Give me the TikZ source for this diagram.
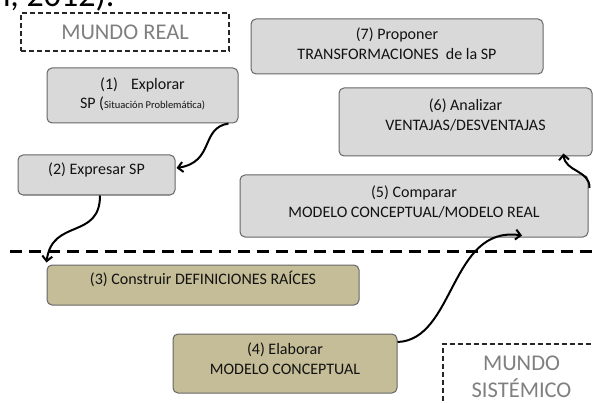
\documentclass[tikz,border=0pt]{standalone}
\usepackage{fontspec}
\setmainfont{Carlito}
\usetikzlibrary{arrows.meta,calc}
\definecolor{boxgray}{HTML}{D9D9D9}
\definecolor{boxolive}{HTML}{C4BD97}
\definecolor{boxline}{HTML}{666666}
\definecolor{textc}{HTML}{121212}
\definecolor{worldc}{HTML}{7F7F7F}
\newcommand{\liftup}[2]{\raisebox{#1}[\height][\depth]{\begin{tabular}{@{}c@{}}#2\end{tabular}}}
\tikzset{
  gbox/.style={draw=boxline, fill=boxgray, rounded corners=5pt, line width=1pt,
    inner sep=0pt, font=\fontsize{16}{19.5}\selectfont, text=textc},
  obox/.style={gbox, fill=boxolive},
  world/.style={draw=black!85, dash pattern=on 5pt off 3pt, line width=1.1pt,
    inner sep=0pt, text=worldc, align=center, font=\fontsize{22.5}{27}\selectfont},
  conn/.style={-{Straight Barb[length=5pt,width=10pt]}, line width=2pt, black},
  sepline/.style={line width=3pt, black, dash pattern=on 12pt off 7pt}
}
\begin{document}
\begin{tikzpicture}[x=1pt,y=-1pt]
\useasboundingbox (0,0) rectangle (593,403);
\node[anchor=base west, font=\fontsize{34}{40}\selectfont] (cite) at (-11,7) {n, 2012).};

\node[world, minimum width=208, minimum height=38] (mr) at (125,32) {MUNDO REAL};
\node[world, minimum width=157, minimum height=66] (ms) at (521.5,377) {MUNDO\\SISTÉMICO};

\node[gbox, minimum width=191, minimum height=55] (b1) at (142.5,95.5)
  {\liftup{0.5pt}{(1)\hspace{13pt}Explorar\\SP ({\fontsize{10.5}{12}\selectfont Situación Problemática)}}};
\node[gbox, minimum width=157, minimum height=40] (b2) at (96.5,175)
  {\liftup{4pt}{(2) Expresar SP}};
\node[gbox, minimum width=292, minimum height=55] (b7) at (397,46.5)
  {\liftup{1pt}{(7) Proponer\\TRANSFORMACIONES\ \ de la SP}};
\node[gbox, minimum width=253, minimum height=68] (b6) at (465.5,122)
  {\liftup{5.5pt}{(6) Analizar\\VENTAJAS/DESVENTAJAS}};
\node[gbox, minimum width=348, minimum height=62] (b5) at (414,206)
  {\liftup{2.5pt}{(5) Comparar\\MODELO CONCEPTUAL/MODELO REAL}};
\node[obox, minimum width=312, minimum height=40] (b3) at (203,285)
  {\liftup{4pt}{(3) Construir DEFINICIONES RAÍCES}};
\node[obox, minimum width=224, minimum height=59] (b4) at (285,363.5)
  {\liftup{3pt}{(4) Elaborar\\MODELO CONCEPTUAL}};

\draw[sepline] (10,251) -- (593,251);

\draw[conn] ($(b1.south east)+(-10,0)$) .. controls (200,128) and (215,162) .. ($(b2.east)+(1,-7)$);
\draw[conn] ($(b2.south)+(3.5,0)$) .. controls (100,240) and (52,218) .. ($(b3.north west)+(0,-2)$);
\draw[conn] ($(b4.east)+(0,-21.5)$) .. controls (455,340) and (450,225) .. ($(b5.south)+(108,-2)$);
\draw[conn] ($(b5.east)+(1,-18)$) .. controls (590,170) and (565,172) .. ($(b6.south)+(98,-3)$);
\end{tikzpicture}
\end{document}
